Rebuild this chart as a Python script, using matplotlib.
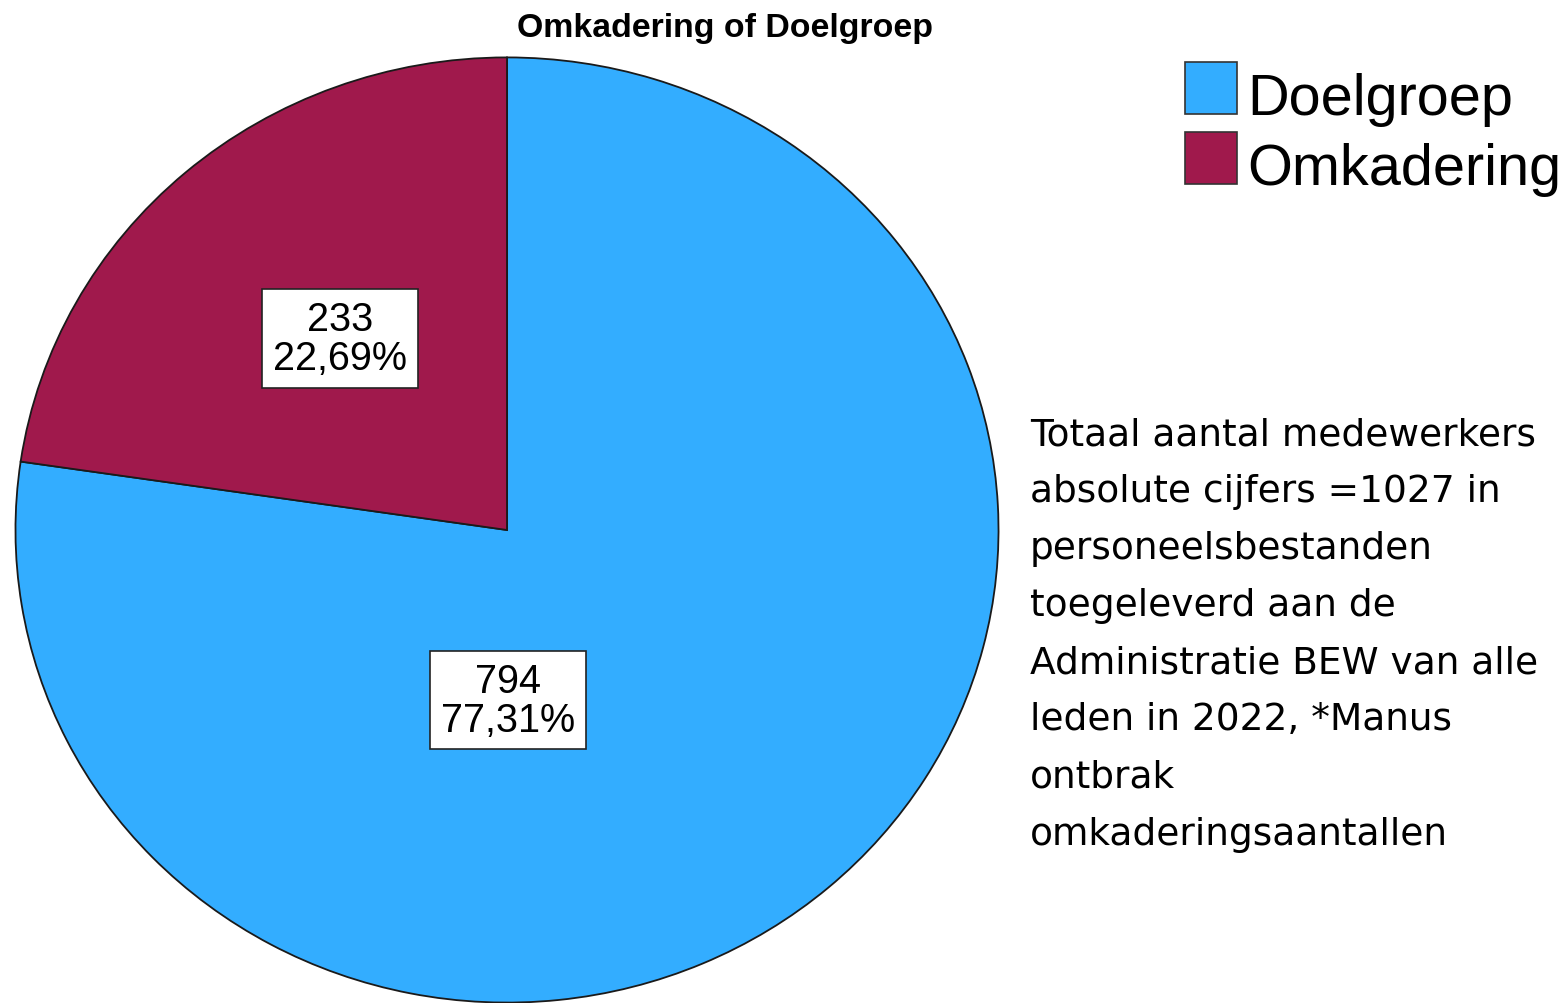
import matplotlib
matplotlib.use("Agg")
import matplotlib.pyplot as plt

categories = ["Doelgroep", "Omkadering"]
counts = [794, 233]
percent_labels = ["77,31%", "22,69%"]
colors = ["#33adff", "#a0194c"]
title = "Omkadering of Doelgroep"
note_lines = [
    "Totaal aantal medewerkers",
    "absolute cijfers =1027 in",
    "personeelsbestanden",
    "toegeleverd aan de",
    "Administratie BEW van alle",
    "leden in 2022, *Manus",
    "ontbrak",
    "omkaderingsaantallen",
]

W, H = 1562, 1004
fig = plt.figure(figsize=(W / 100, H / 100), dpi=100)
fig.patch.set_facecolor("white")

# pie axes spanning the (slightly elliptical) pie
left, right, top, bottom = 14, 1000, 57, 1005
ax = fig.add_axes([left / W, (H - bottom) / H, (right - left) / W, (bottom - top) / H])
wedges, _ = ax.pie(counts, colors=colors, startangle=90, counterclock=False,
                   wedgeprops=dict(edgecolor="#1a1a1a", linewidth=1.3))
ax.set_aspect("auto")
ax.set_xlim(-1.003, 1.003)
ax.set_ylim(-1.003, 1.003)
ax.axis("off")

# value labels in boxes
label_pos = [(0.002, -0.36), (-0.34, 0.405)]
for (x, y), c, p in zip(label_pos, counts, percent_labels):
    ax.text(x, y, f"{c}\n{p}", ha="center", va="center", fontsize=28.5,
            family="Liberation Sans", linespacing=1.03,
            bbox=dict(boxstyle="square,pad=0.27", facecolor="white",
                      edgecolor="#222222", linewidth=1.2))

fig.text(725 / W, 1 - 29 / H, title, ha="center", va="center", fontsize=24.4,
         fontweight="bold", family="Liberation Sans")

# legend
for i, (cat, col) in enumerate(zip(categories, colors)):
    y0 = 63 + i * 70
    fig.patches.append(plt.Rectangle((1185 / W, 1 - (y0 + 52) / H), 52 / W, 52 / H,
                                     transform=fig.transFigure, facecolor=col,
                                     edgecolor="#333333", linewidth=1.2))
    fig.text(1247 / W, 1 - (y0 + 52) / H, cat, ha="left", va="baseline",
             fontsize=41.5, family="Liberation Sans")

# note text
for i, line in enumerate(note_lines):
    yc = 435 + i * 57.1
    fig.text(1030 / W, 1 - yc / H, line, ha="left", va="center", fontsize=27,
             family="DejaVu Sans")

fig.savefig("out.png", dpi=100)
